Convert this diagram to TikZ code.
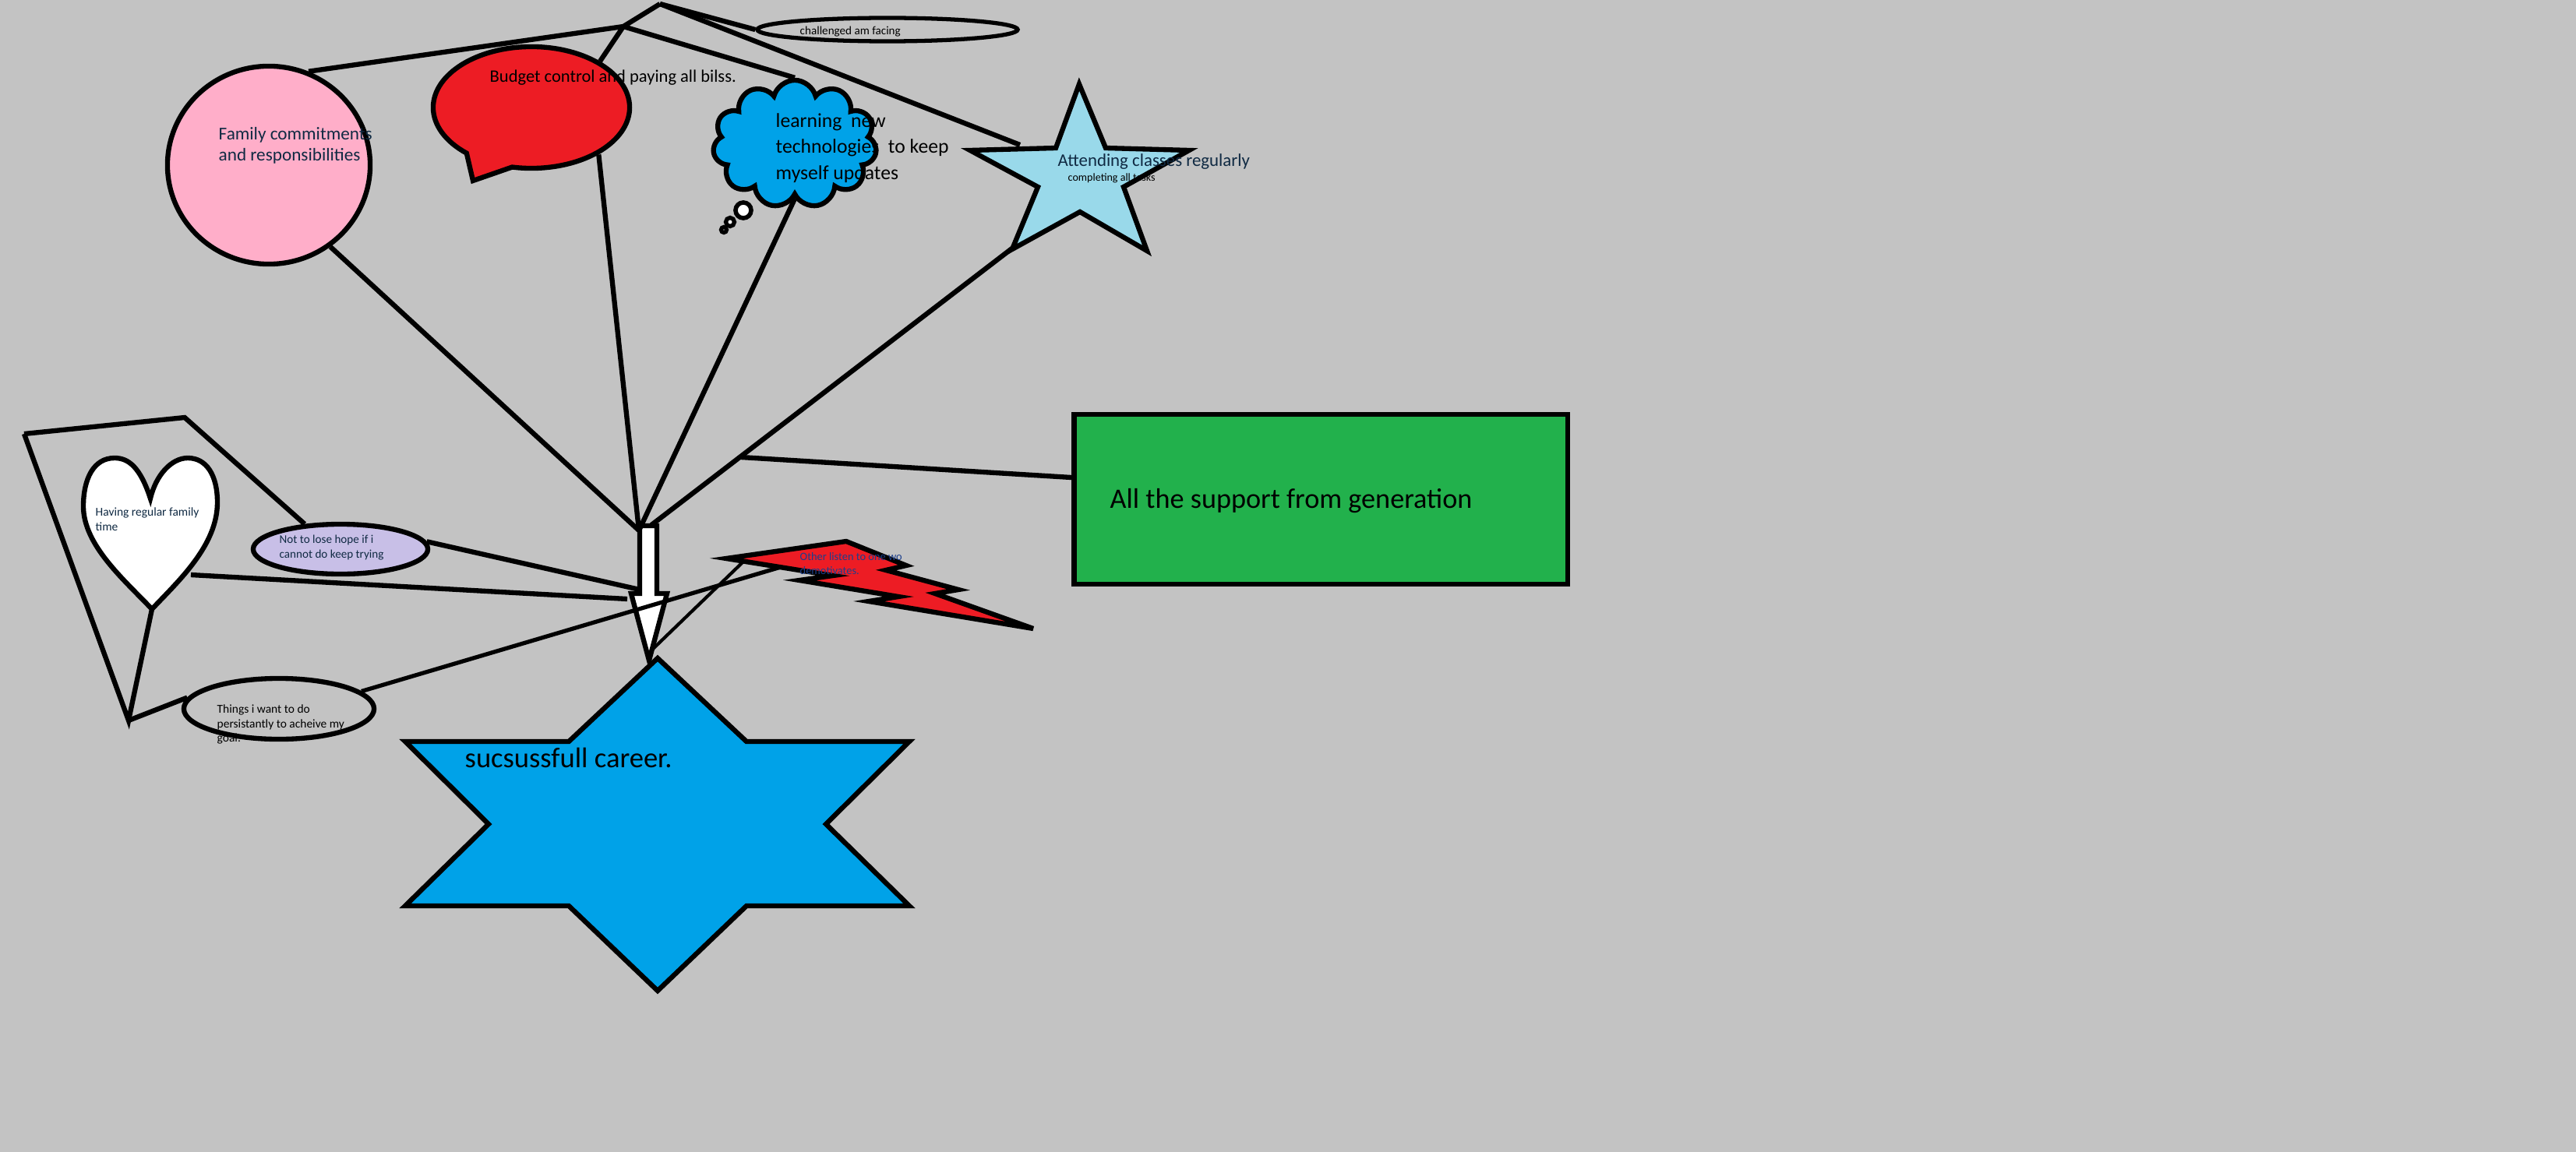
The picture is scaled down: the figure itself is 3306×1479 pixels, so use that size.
\documentclass[tikz,border=0pt]{standalone}
\usepackage{fontspec}
\setmainfont{Carlito}
\usetikzlibrary{shapes}
\usetikzlibrary{shapes.geometric,shapes.symbols,shapes.callouts}
\usetikzlibrary{arrows}

\definecolor{paintgray}{HTML}{C3C3C3}
\definecolor{fampink}{HTML}{FFAEC9}
\definecolor{budgetred}{HTML}{ED1C24}
\definecolor{careerblue}{HTML}{00A2E8}
\definecolor{attendblue}{HTML}{99D9EA}
\definecolor{supportgreen}{HTML}{22B14C}
\definecolor{hopelav}{HTML}{C8BFE7}
\definecolor{inknavy}{HTML}{102A43}
\definecolor{inkblue}{HTML}{1C3F8C}

\begin{document}
\begin{tikzpicture}[x=0.01cm,y=-0.01cm]
				\tikzstyle{every node}=[inner sep=0pt]
				\tikzstyle{blob}=[draw=black,line width=1.8pt]
				\tikzstyle{link}=[line width=1.8pt]
				\tikzstyle{thinlink}=[line width=1.2pt]
				\tikzstyle{txt}=[anchor=west,align=left,inner sep=0pt]
				\fill[paintgray] (0,0) rectangle (3306,1479);
				\useasboundingbox (0,0) rectangle (3306,1479);
				
				\node[blob,ellipse,fill=fampink,minimum width=2.6cm,minimum height=2.54cm] (fam) at (345,212) {};
				\node[blob,ellipse callout,fill=budgetred,minimum width=2.52cm,minimum height=1.56cm,callout absolute pointer={(607,232)},callout pointer arc=30] (budget) at (682,138) {};
				\node[blob,cloud,cloud puffs=11,cloud ignores aspect,fill=careerblue,minimum width=2.1cm,minimum height=1.64cm] (learn) at (1020,185) {};
				\node[blob,circle,fill=white,minimum size=0.2cm,line width=1.6pt] (puff1) at (954,270) {};
				\node[blob,circle,fill=white,minimum size=0.11cm,line width=1.5pt] (puff2) at (937,285) {};
				\node[blob,circle,fill=white,minimum size=0.07cm,line width=1.5pt] (puff3) at (929,295) {};
				\node[blob,ellipse,line width=1.5pt,minimum width=3.34cm,minimum height=0.3cm] (chal) at (1139,38) {};
				\draw[blob,fill=attendblue] (1385,108) -- (1419,190) -- (1526,193) -- (1442,240) -- (1472,322) -- (1386,272) -- (1299,320) -- (1332,240) -- (1245,193) -- (1355,190) -- cycle;
				\node[blob,rectangle,fill=supportgreen,minimum width=6.33cm,minimum height=2.18cm] (support) at (1695,641) {};
				\draw[blob,fill=careerblue] (844,845) -- (958,952) -- (1167,952) -- (1060,1058) -- (1167,1163) -- (958,1163) -- (844,1272) -- (730,1163) -- (520,1163) -- (627,1058) -- (520,952) -- (730,952) -- cycle;
				\draw[blob,fill=white] (821,675) -- (843,675) -- (843,762) -- (856,762) -- (833,848) -- (810,762) -- (821,762) -- cycle;
				\draw[blob,fill=budgetred] (932,717) -- (1086,695) -- (1163,726) -- (1137,732) -- (1230,757) -- (1200,762) -- (1326,807) -- (1115,772) -- (1153,766) -- (1026,745) -- (1069,739) -- cycle;
				\draw[blob,fill=white] (193,640) .. controls (180,600) and (165,588) .. (147,588) .. controls (120,588) and (107,615) .. (107,650) .. controls (107,700) and (160,745) .. (195,782) .. controls (230,745) and (279,700) .. (279,645) .. controls (279,610) and (265,588) .. (241,588) .. controls (220,588) and (200,610) .. (193,640) -- cycle;
				\node[blob,ellipse,fill=hopelav,minimum width=2.24cm,minimum height=0.64cm] (hope) at (437,705) {};
				\node[blob,ellipse,minimum width=2.44cm,minimum height=0.78cm] (things) at (358,910) {};
				
				\coordinate (knot) at (800,34);
				\coordinate (peak) at (847,5);
				\coordinate (attendleft) at (1309,186);
				\coordinate (attendfoot) at (1300,318);
				\coordinate (arrtop) at (820,681);
				\coordinate (arrtopr) at (836,674);
				\coordinate (kink) at (951,587);
				\coordinate (arrleft) at (805,769);
				\coordinate (arrshaft) at (821,757);
				\coordinate (arrtip) at (837,834);
				\coordinate (boltnose) at (953,722);
				\coordinate (boltbelly) at (1002,728);
				\coordinate (heartright) at (245,738);
				\coordinate (hearttip) at (195,782);
				\coordinate (frameA) at (31,557);
				\coordinate (frameB) at (237,536);
				\coordinate (frameC) at (165,925);
				
				\draw[link] (fam.67) -- (knot) -- (peak);
				\draw[link] (knot) -- (budget.34);
				\draw[link] (knot) -- (learn.north);
				\draw[link] (peak) -- (chal.west);
				\draw[link] (peak) -- (attendleft);
				\draw[link] (fam.-53) -- (arrtop);
				\draw[link] (budget.-35) -- (arrtop);
				\draw[link] (learn.south) -- (arrtop);
				\draw[link] (attendfoot) -- (arrtopr);
				\draw[link] (support.175) -- (kink);
				\draw[link] (frameA) -- (frameB) -- (hope.145);
				\draw[link] (frameA) -- (frameC) -- (hearttip);
				\draw[link] (frameC) -- (things.173);
				\draw[link] (heartright) -- (arrleft);
				\draw[link] (hope.5) -- (arrshaft);
				\draw[link,line width=1.5pt] (things.12) -- (boltbelly);
				\draw[thinlink] (boltnose) -- (arrtip);
				
				\node[txt,text=inknavy,font=\fontsize{6.6}{7.7}\selectfont] (famtxt) at (280,187) {Family commitments\\and responsibilities};
				\node[txt,font=\fontsize{6.4}{8}\selectfont] (budgettxt) at (628,100) {Budget control and paying all bilss.};
				\node[txt,font=\fontsize{7.3}{9.5}\selectfont] (learntxt) at (995,190) {learning\ \ new\\technologies\ \ to keep\\myself updates};
				\node[txt,font=\fontsize{4.3}{5}\selectfont] (chaltxt) at (1026,41) {challenged am facing};
				\node[txt,text=inknavy,font=\fontsize{6.5}{7}\selectfont] (attendtxt) at (1357,208) {Attending classes regularly};
				\node[txt,font=\fontsize{4}{4.5}\selectfont] (tasktxt) at (1370,229) {completing all tasks};
				\node[txt,font=\fontsize{10.3}{12}\selectfont] (supporttxt) at (1424,643) {All the support from generation};
				\node[txt,font=\fontsize{10.4}{12}\selectfont] (careertxt) at (596,973) {sucsussfull career.};
				\node[txt,text=inknavy,font=\fontsize{4.4}{5.4}\selectfont] (hearttxt) at (122,667) {Having regular family\\time};
				\node[txt,text=inknavy,font=\fontsize{4.3}{5.4}\selectfont] (hopetxt) at (358,703) {Not to lose hope if i\\cannot do keep trying};
				\node[txt,font=\fontsize{4.4}{5.2}\selectfont] (thingstxt) at (278,930) {Things i want to do\\persistantly to acheive my\\goal.};
				\node[txt,text=inkblue,font=\fontsize{4.1}{5.1}\selectfont] (othertxt) at (1026,724) {Other listen to one wo\\demotivates.};
\end{tikzpicture}
\end{document}
